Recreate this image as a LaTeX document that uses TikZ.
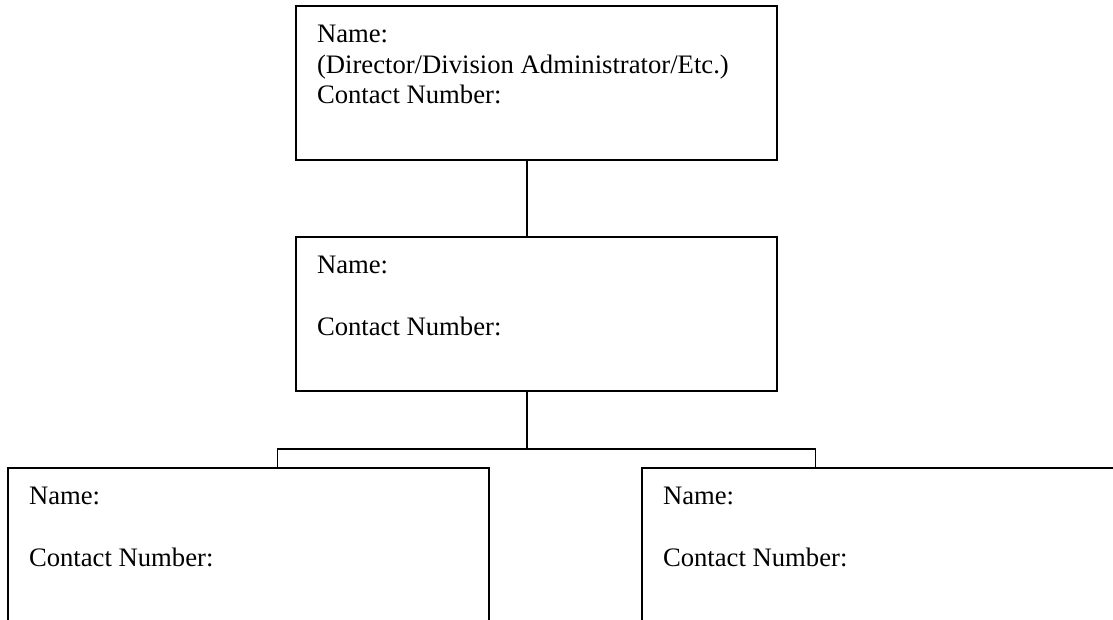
\documentclass[tikz,border=0pt]{standalone}
\usepackage{fontspec}
\setmainfont{Liberation Serif}
\usetikzlibrary{positioning}

\begin{document}
\begin{tikzpicture}[
    box/.style={rectangle, draw, line width=1.1pt, outer sep=0pt, inner xsep=15.75pt, inner ysep=11.4pt, font=\fontsize{20}{23}\selectfont},
    line/.style={draw, line width=1.1pt}
]
\useasboundingbox (0,0) rectangle (834.75pt,-465pt);

\node[box, anchor=north west] (dir) at (222pt,-4.5pt) {\parbox[t][92.7pt][t]{329.25pt}{\strut Name:\\(Director/Division Administrator/Etc.)\\Contact Number:}};
\node[box, below=57.75pt of dir] (mid) {\parbox[t][92.7pt][t]{329.25pt}{\strut Name:\\[\baselineskip]Contact Number:}};
\node[box, below=57.75pt of mid, xshift=-216pt] (left) {\parbox[t][92.7pt][t]{329.25pt}{\strut Name:\\[\baselineskip]Contact Number:}};
\node[box, below=57.75pt of mid, xshift=259.5pt] (right) {\parbox[t][92.7pt][t]{329.25pt}{\strut Name:\\[\baselineskip]Contact Number:}};

\coordinate (fork) at ([xshift=-7.1pt, yshift=-43.5pt]mid.south);

\draw[line] ([xshift=-7.1pt]dir.south) -- ([xshift=-7.1pt]mid.north);
\draw[line] ([xshift=-7.1pt]mid.south) -- (fork);
\draw[line] ([xshift=21.75pt]left.north) |- (fork) -| ([xshift=-50.25pt]right.north);
\end{tikzpicture}
\end{document}
